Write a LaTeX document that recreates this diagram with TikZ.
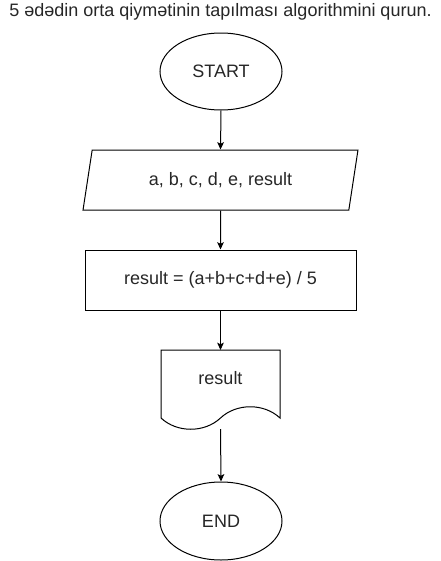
\documentclass[tikz,border=0pt]{standalone}
\usepackage{fontspec}
\setmainfont{Liberation Sans}
\usetikzlibrary{shapes.geometric,arrows.meta}
\begin{document}
\begin{tikzpicture}[x=0.75pt,y=-0.75pt,
  every node/.style={font=\fontsize{13.5pt}{16pt}\selectfont, text=black!85},
  shapeline/.style={draw=black, line width=0.75pt},
  flow/.style={draw=black, line width=0.75pt, -{Stealth[length=5.5pt,width=5pt,inset=1.2pt]}}]
\useasboundingbox (0,0) rectangle (441,561);
\node (title) at (220.5,12) {5 ədədin orta qiymətinin tapılması algorithmini qurun.};
\node[shapeline, ellipse, minimum width=122*0.75pt, minimum height=77*0.75pt, inner sep=0pt] (start) at (221,71.5) {START};
\node[shapeline, trapezium, trapezium left angle=71.6, trapezium right angle=108.4, minimum width=275*0.75pt, minimum height=60*0.75pt, trapezium stretches=true, inner sep=0pt] (input) at (220.5,180) {a, b, c, d, e, result};
\node[shapeline, rectangle, minimum width=271*0.75pt, minimum height=60*0.75pt, inner sep=0pt] (proc) at (220.5,280) {result = (a+b+c+d+e) / 5};
\draw[shapeline] (161,350) -- (280,350) -- (280,418)
  .. controls (264,403) and (236.5,403) .. (220.5,418)
  .. controls (204.5,433) and (177,433) .. (161,418) -- cycle;
\node (out) at (220.5,378) {result};
\coordinate (outtop) at (220.5,350);
\coordinate (outbot) at (220.5,429);
\node[shapeline, ellipse, minimum width=122*0.75pt, minimum height=78*0.75pt, inner sep=0pt] (end) at (221,521) {END};
\draw[flow] (start.south) -- (input.north);
\draw[flow] (input.south) -- (proc.north);
\draw[flow] (proc.south) -- (outtop);
\draw[flow] (outbot) -- (end.north);
\end{tikzpicture}
\end{document}
